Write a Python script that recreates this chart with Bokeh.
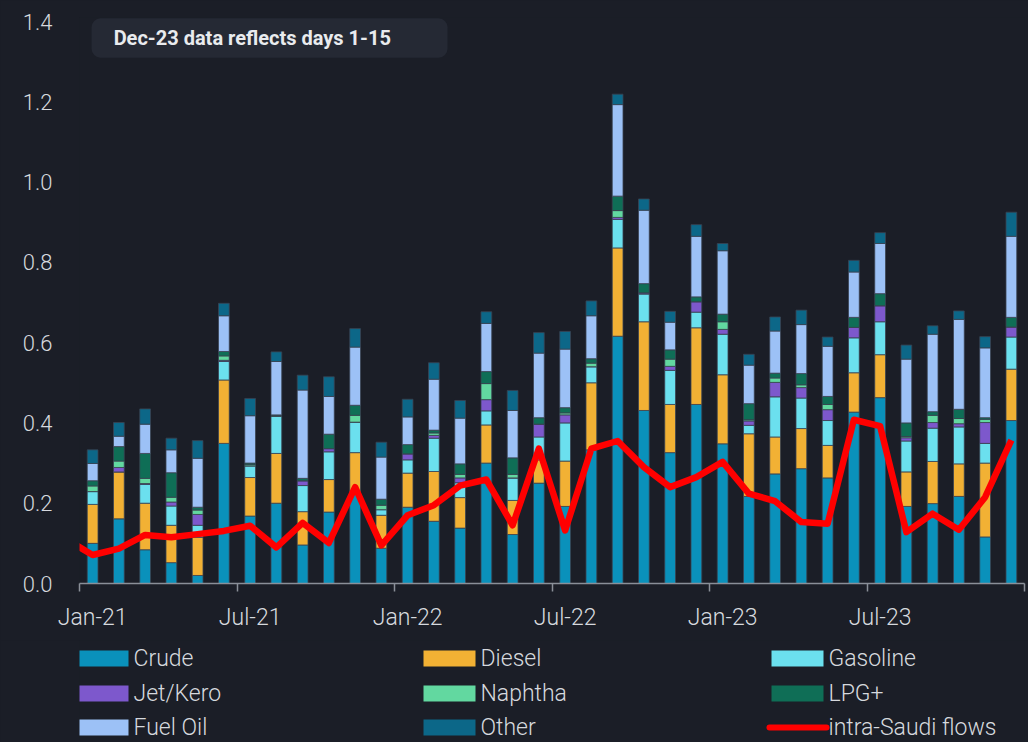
from bokeh.plotting import figure
from bokeh.layouts import column
from bokeh.models import (ColumnDataSource, FixedTicker, NumeralTickFormatter, Range1d,
                          BoxAnnotation, Label)
from bokeh.core.properties import value
from bokeh.embed import file_html
from bokeh.resources import INLINE

# ---------------- data ----------------
months = ["Jan-21", "Feb-21", "Mar-21", "Apr-21", "May-21", "Jun-21", "Jul-21", "Aug-21",
          "Sep-21", "Oct-21", "Nov-21", "Dec-21", "Jan-22", "Feb-22", "Mar-22", "Apr-22",
          "May-22", "Jun-22", "Jul-22", "Aug-22", "Sep-22", "Oct-22", "Nov-22", "Dec-22",
          "Jan-23", "Feb-23", "Mar-23", "Apr-23", "May-23", "Jun-23", "Jul-23", "Aug-23",
          "Sep-23", "Oct-23", "Nov-23", "Dec-23"]

crude = [0.100, 0.161, 0.084, 0.052, 0.020, 0.349, 0.168, 0.200, 0.096, 0.178, 0.225, 0.088,
         0.190, 0.155, 0.138, 0.300, 0.122, 0.250, 0.192, 0.333, 0.616, 0.431, 0.326, 0.446,
         0.348, 0.217, 0.273, 0.286, 0.263, 0.427, 0.463, 0.192, 0.199, 0.217, 0.116, 0.406]
diesel = [0.097, 0.117, 0.116, 0.093, 0.095, 0.158, 0.096, 0.124, 0.083, 0.081, 0.101, 0.082,
          0.085, 0.124, 0.076, 0.095, 0.085, 0.058, 0.113, 0.167, 0.220, 0.221, 0.120, 0.191,
          0.172, 0.156, 0.092, 0.100, 0.081, 0.098, 0.107, 0.086, 0.105, 0.081, 0.184, 0.128]
gasoline = [0.032, 0.000, 0.047, 0.048, 0.030, 0.046, 0.029, 0.092, 0.065, 0.069, 0.076, 0.014,
            0.033, 0.083, 0.037, 0.035, 0.056, 0.057, 0.095, 0.040, 0.071, 0.069, 0.085, 0.039,
            0.101, 0.021, 0.100, 0.076, 0.062, 0.087, 0.082, 0.077, 0.083, 0.092, 0.049, 0.080]
jet_kero = [0.000, 0.011, 0.002, 0.010, 0.027, 0.003, 0.000, 0.000, 0.012, 0.008, 0.000, 0.000,
            0.015, 0.007, 0.012, 0.028, 0.000, 0.032, 0.020, 0.000, 0.005, 0.003, 0.010, 0.026,
            0.012, 0.011, 0.036, 0.026, 0.027, 0.026, 0.040, 0.008, 0.014, 0.008, 0.052, 0.025]
naphtha = [0.014, 0.016, 0.013, 0.012, 0.011, 0.011, 0.003, 0.002, 0.000, 0.000, 0.017, 0.011,
           0.000, 0.006, 0.009, 0.040, 0.009, 0.000, 0.005, 0.009, 0.017, 0.000, 0.018, 0.000,
           0.019, 0.003, 0.011, 0.007, 0.013, 0.000, 0.000, 0.003, 0.018, 0.013, 0.008, 0.000]
lpg = [0.013, 0.036, 0.062, 0.061, 0.007, 0.011, 0.004, 0.002, 0.006, 0.036, 0.025, 0.015,
       0.023, 0.007, 0.026, 0.030, 0.041, 0.016, 0.013, 0.011, 0.036, 0.023, 0.023, 0.012,
       0.019, 0.040, 0.012, 0.028, 0.020, 0.025, 0.030, 0.034, 0.009, 0.023, 0.004, 0.024]
fuel_oil = [0.043, 0.026, 0.073, 0.057, 0.122, 0.089, 0.118, 0.133, 0.220, 0.094, 0.145, 0.105,
            0.069, 0.127, 0.114, 0.120, 0.118, 0.161, 0.146, 0.107, 0.228, 0.183, 0.069, 0.151,
            0.158, 0.096, 0.105, 0.122, 0.125, 0.113, 0.125, 0.159, 0.193, 0.224, 0.174, 0.202]
other = [0.034, 0.034, 0.038, 0.029, 0.044, 0.031, 0.043, 0.024, 0.037, 0.049, 0.046, 0.037,
         0.044, 0.041, 0.044, 0.029, 0.050, 0.051, 0.044, 0.037, 0.026, 0.028, 0.027, 0.029,
         0.018, 0.027, 0.035, 0.036, 0.023, 0.029, 0.027, 0.035, 0.021, 0.021, 0.028, 0.060]

# red line runs from the month before the first bar (clipped at the frame edge)
line_months = ["Dec-20"] + months
intra_saudi = [0.110, 0.071, 0.087, 0.121, 0.115, 0.123, 0.131, 0.144, 0.090, 0.151, 0.101,
               0.240, 0.095, 0.170, 0.195, 0.244, 0.259, 0.145, 0.336, 0.132, 0.336, 0.355,
               0.290, 0.240, 0.265, 0.303, 0.224, 0.205, 0.153, 0.149, 0.408, 0.392, 0.128,
               0.174, 0.134, 0.215, 0.357]

series_names = ["Crude", "Diesel", "Gasoline", "Jet/Kero", "Naphtha", "LPG+", "Fuel Oil", "Other"]
series_values = [crude, diesel, gasoline, jet_kero, naphtha, lpg, fuel_oil, other]
series_colors = ["#0a91bb", "#f2b134", "#6be0ee", "#7d58cc", "#62d8a0", "#0f6e56", "#9cc1f6", "#0c6788"]
line_label = "intra-Saudi flows"
line_color = "#ff0000"
y_ticks = [0.0, 0.2, 0.4, 0.6, 0.8, 1.0, 1.2, 1.4]
note_text = "Dec-23 data reflects days 1-15"

# ---------------- styling ----------------
BG = "#1b1e27"
TXT = "#d6d9de"
AX = "#8a8f98"
FONT = "Roboto Light"

# ---------------- main chart ----------------
x_idx = list(range(len(months)))
data = {"x": x_idx}
for n, v in zip(series_names, series_values):
    data[n] = v
src = ColumnDataSource(data)
line_x = [i - 1 for i in range(len(line_months))]

p = figure(width=1028, height=640, output_backend="svg", toolbar_location=None,
           x_range=Range1d(-0.5, len(months) - 0.5), y_range=Range1d(0, 1.41),
           min_border_left=79, min_border_right=4, min_border_top=17, min_border_bottom=57)
p.background_fill_color = BG
p.border_fill_color = BG
p.outline_line_color = None
p.grid.visible = False

bars = p.vbar_stack(series_names, x="x", width=0.41, source=src,
                    fill_color=series_colors, line_color="#3a4252", line_width=0.8)
ln = p.line(line_x, intra_saudi, line_color=line_color, line_width=6.5, line_join="round")

# x axis: labels at bar centres, tick marks at month boundaries (minor ticks)
xa = p.xaxis[0]
xa.ticker = FixedTicker(ticks=list(range(0, len(months), 6)),
                        minor_ticks=[k - 0.5 for k in range(0, len(months) + 1, 6)])
xa.major_label_overrides = {i: months[i] for i in range(0, len(months), 6)}
xa.major_tick_out = 0
xa.major_tick_in = 0
xa.minor_tick_out = 8
xa.minor_tick_in = 0
xa.minor_tick_line_color = AX
xa.minor_tick_line_width = 1.5
xa.axis_line_color = AX
xa.axis_line_width = 1.5
xa.major_label_standoff = 12
xa.major_label_text_font = FONT
xa.major_label_text_font_size = "23px"
xa.major_label_text_color = TXT

ya = p.yaxis[0]
ya.ticker = FixedTicker(ticks=y_ticks)
ya.formatter = NumeralTickFormatter(format="0.0")
ya.axis_line_color = None
ya.major_tick_line_color = None
ya.minor_tick_line_color = None
ya.major_tick_out = 0
ya.major_tick_in = 0
ya.major_label_standoff = 27
ya.major_label_text_font = FONT
ya.major_label_text_font_size = "22px"
ya.major_label_text_color = TXT

# note box
p.add_layout(BoxAnnotation(left=-0.04, right=13.52, bottom=1.31, top=1.408,
                           fill_color="#252934", fill_alpha=1.0, line_color=None,
                           border_radius=9, level="annotation"))
p.add_layout(Label(x=0.8, y=1.360, text=note_text, level="overlay",
                   text_font="Roboto", text_font_style="bold", text_font_size="20px",
                   text_color="#e9ebee", text_baseline="middle", text_align="left"))

# ---------------- legend strip ----------------
# The column layout aligns this strip's frame with the chart frame (pixels 79..1024),
# so the x range is set to page pixels and the y range to pixels below the chart.
leg = figure(width=1028, height=102, output_backend="svg", toolbar_location=None,
             x_range=Range1d(79, 1024), y_range=Range1d(102, 0),
             x_axis_type=None, y_axis_type=None, min_border=0)
leg.background_fill_color = BG
leg.border_fill_color = BG
leg.outline_line_color = None
leg.grid.visible = False

col_x = [76, 423, 771]
row_y = [18, 53, 87]
sw_w, sw_h = 52, 16
labels_all = series_names + [line_label]
sw_left, sw_right, sw_top, sw_bot, sw_col = [], [], [], [], []
tx, ty = [], []
for k, name in enumerate(labels_all):
    r, c = divmod(k, 3)
    tx.append(col_x[c] + sw_w + 5)
    ty.append(row_y[r])
    if k < len(series_names):
        sw_left.append(col_x[c]); sw_right.append(col_x[c] + sw_w)
        sw_top.append(row_y[r] - sw_h / 2); sw_bot.append(row_y[r] + sw_h / 2)
        sw_col.append(series_colors[k])
leg.quad(left=sw_left, right=sw_right, top=sw_top, bottom=sw_bot,
         fill_color=sw_col, line_color=None)
lr, lc = divmod(len(series_names), 3)
leg.segment(x0=[col_x[lc] - 2], y0=[row_y[lr]], x1=[col_x[lc] + sw_w + 3], y1=[row_y[lr]],
            line_color=line_color, line_width=6, line_cap="round")
leg.text(x=tx, y=ty, text=labels_all, text_font=value(FONT), text_font_size=value("23px"),
         text_color=TXT, text_baseline="middle", text_align="left")

layout = column(p, leg, spacing=0)

template = """{% block preamble %}<style>html, body {margin:0 !important; padding:0; background:#1b1e27; overflow:hidden;}</style>{% endblock %}"""

open("out.html", "w").write(file_html(layout, INLINE, template=template))
